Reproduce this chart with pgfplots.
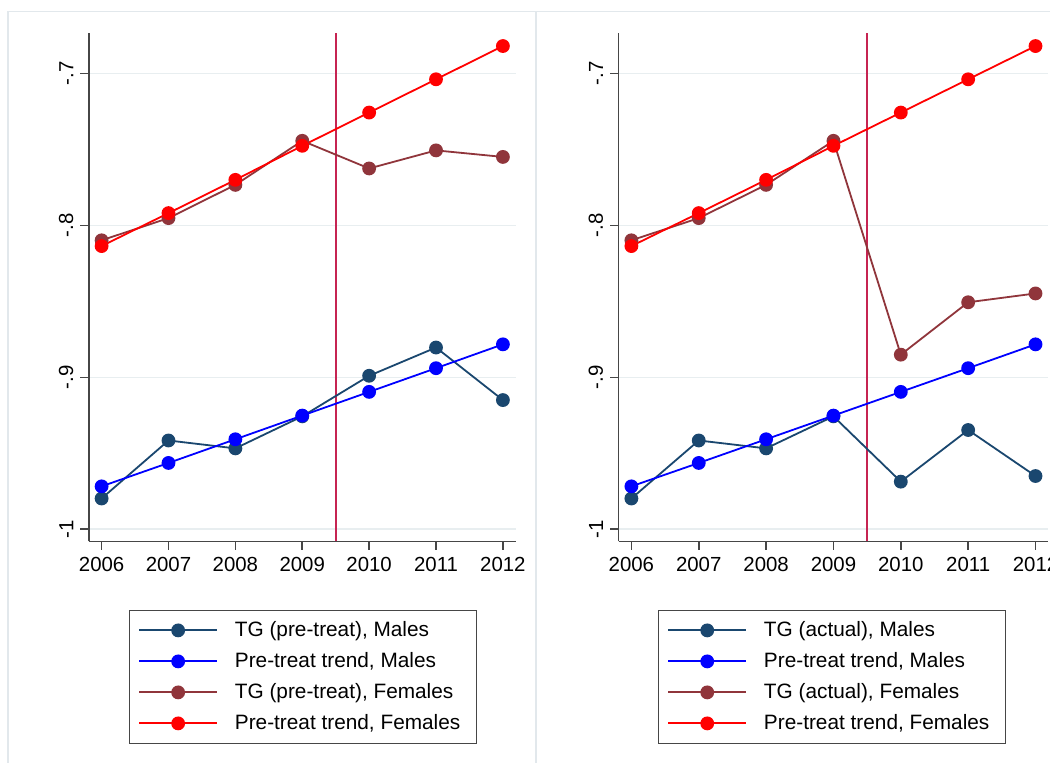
\documentclass[border=0pt]{standalone}
\usepackage{fontspec}
\setmainfont{Liberation Sans}
\usepackage{pgfplots}
\pgfplotsset{compat=1.18}
\definecolor{tgnavy}{RGB}{26,71,111}
\definecolor{tgmaroon}{RGB}{144,53,59}
\definecolor{vlinec}{RGB}{198,36,82}
\definecolor{gridc}{RGB}{232,238,240}
\definecolor{axc}{RGB}{70,70,70}
\definecolor{panelc}{RGB}{226,232,236}

\pgfplotsset{
 panel/.style={
  scale only axis, height=254.1pt,
  xmin=2005.81, xmax=2012.19, ymin=-1.0081, ymax=-0.6735,
  axis x line*=bottom, axis y line*=left,
  axis line style={draw=axc, line width=0.8pt},
  xtick={2006,2007,2008,2009,2010,2011,2012},
  xticklabels={2006,2007,2008,2009,2010,2011,2012},
  ytick={-1,-0.9,-0.8,-0.7}, yticklabels={-1,-.9,-.8,-.7},
  tick align=outside, major tick length=4.25pt,
  tick style={draw=axc, line width=0.8pt},
  ymajorgrids, major grid style={draw=gridc, line width=0.8pt},
  tick label style={font=\fontsize{10.2}{12}\selectfont},
  yticklabel style={rotate=90, anchor=south},
  legend cell align=left,
  legend style={anchor=north west, draw=axc, fill=white,
    inner xsep=4.35pt, inner ysep=5pt, row sep=5.5pt, column sep=8.5pt,
    font=\fontsize{10.4}{12}\selectfont,
    nodes={inner sep=0pt, text height=8pt, text depth=2pt}},
  legend image code/.code={
    \draw[#1, line width=0.9pt, mark repeat=2, mark phase=2] plot coordinates {(0pt,0pt) (19.425pt,0pt) (38.85pt,0pt)};
  },
 },
 ser/.style={line width=0.9pt, mark=*, mark size=3pt, color=#1, mark options={solid, fill=#1, draw=#1}},
}

\begin{document}
\begin{tikzpicture}
\path[use as bounding box] (0,0) rectangle (525pt,381.5pt);
\clip (0,0) rectangle (525pt,381.5pt);
\fill[white] (0,0) rectangle (525pt,381.5pt);
\draw[panelc, line width=0.6pt] (4pt,-5pt) |- (268pt,375.75pt) -- (268pt,-5pt);
\draw[panelc, line width=0.6pt] (268.5pt,375.75pt) -- (530pt,375.75pt);

% Left panel
\begin{axis}[panel, width=213.35pt, at={(44.45pt,110.75pt)}, anchor=south west,
  legend style={at={(0.0947,-0.1348)}}]
\addplot[forget plot, vlinec, line width=1pt] coordinates {(2009.5,-1.0081) (2009.5,-0.6735)};
\addplot[ser=tgnavy] coordinates {(2006,-0.9798) (2007,-0.9416) (2008,-0.9468) (2009,-0.9257) (2010,-0.8990) (2011,-0.8804) (2012,-0.9150)};
\addplot[ser=blue] coordinates {(2006,-0.9718) (2007,-0.9564) (2008,-0.9408) (2009,-0.9252) (2010,-0.9096) (2011,-0.8940) (2012,-0.8783)};
\addplot[ser=tgmaroon] coordinates {(2006,-0.8098) (2007,-0.7952) (2008,-0.7733) (2009,-0.7443) (2010,-0.7625) (2011,-0.7506) (2012,-0.7549)};
\addplot[ser=red] coordinates {(2006,-0.8136) (2007,-0.7919) (2008,-0.7700) (2009,-0.7476) (2010,-0.7257) (2011,-0.7038) (2012,-0.6819)};
\legend{\makebox[116.3pt][l]{TG (pre-treat), Males},\makebox[116.3pt][l]{Pre-treat trend, Males},\makebox[116.3pt][l]{TG (pre-treat), Females},\makebox[116.3pt][l]{Pre-treat trend, Females}}
\end{axis}

% Right panel
\begin{axis}[panel, width=214.85pt, at={(309.3pt,110.75pt)}, anchor=south west,
  legend style={at={(0.0926,-0.1348)}}]
\addplot[forget plot, vlinec, line width=1pt] coordinates {(2009.5,-1.0081) (2009.5,-0.6735)};
\addplot[ser=tgnavy] coordinates {(2006,-0.9798) (2007,-0.9416) (2008,-0.9468) (2009,-0.9257) (2010,-0.9687) (2011,-0.9347) (2012,-0.9650)};
\addplot[ser=blue] coordinates {(2006,-0.9718) (2007,-0.9564) (2008,-0.9408) (2009,-0.9252) (2010,-0.9096) (2011,-0.8940) (2012,-0.8783)};
\addplot[ser=tgmaroon] coordinates {(2006,-0.8098) (2007,-0.7952) (2008,-0.7733) (2009,-0.7443) (2010,-0.8851) (2011,-0.8506) (2012,-0.8448)};
\addplot[ser=red] coordinates {(2006,-0.8136) (2007,-0.7919) (2008,-0.7700) (2009,-0.7476) (2010,-0.7257) (2011,-0.7038) (2012,-0.6819)};
\legend{\makebox[116.3pt][l]{TG (actual), Males},\makebox[116.3pt][l]{Pre-treat trend, Males},\makebox[116.3pt][l]{TG (actual), Females},\makebox[116.3pt][l]{Pre-treat trend, Females}}
\end{axis}
\end{tikzpicture}
\end{document}
